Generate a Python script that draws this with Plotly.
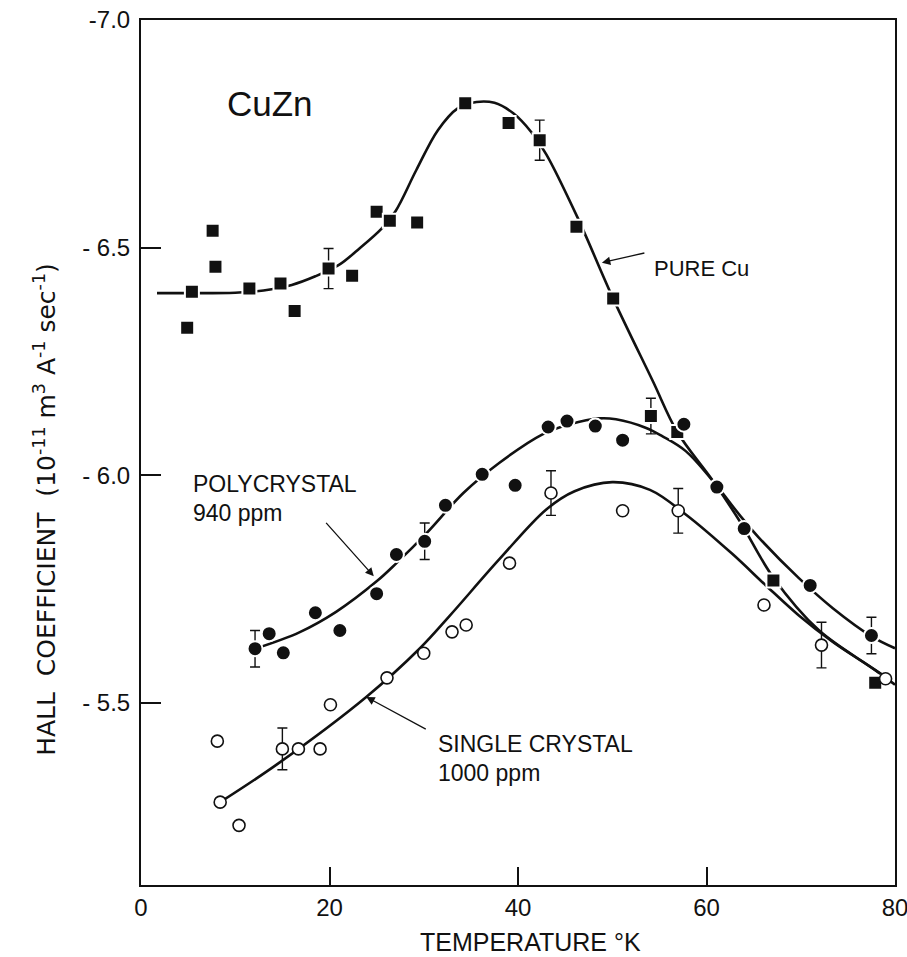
import plotly.graph_objects as go

# ---------------- data ----------------
# Pure Cu (filled squares)
cu_T = [4.9, 5.4, 7.6, 7.9, 11.5, 14.8, 16.3, 19.9, 22.4, 25.0, 26.4, 29.3,
        34.4, 39.0, 42.3, 46.2, 50.1, 54.1, 56.9, 67.1, 77.9]
cu_R = [-6.324, -6.403, -6.537, -6.458, -6.410, -6.421, -6.361, -6.454, -6.438,
        -6.579, -6.559, -6.555, -6.817, -6.774, -6.736, -6.546, -6.388, -6.130,
        -6.095, -5.769, -5.544]
cu_err = [0, 0, 0, 0, 0, 0, 0, 0.044, 0, 0, 0, 0, 0, 0, 0.044, 0, 0, 0.039,
          0, 0, 0]

# Polycrystal 940 ppm (filled circles)
poly_T = [12.1, 13.6, 15.1, 18.5, 21.1, 25.0, 27.1, 30.1, 32.3, 36.2, 39.7,
          43.2, 45.2, 48.2, 51.1, 57.6, 61.1, 64.0, 71.0, 77.5]
poly_R = [-5.619, -5.652, -5.610, -5.698, -5.659, -5.740, -5.826, -5.855,
          -5.934, -6.002, -5.978, -6.106, -6.119, -6.108, -6.077, -6.112,
          -5.974, -5.883, -5.758, -5.648]
poly_err = [0.04, 0, 0, 0, 0, 0, 0, 0.04, 0, 0, 0, 0, 0, 0, 0, 0, 0, 0, 0, 0.04]

# Single crystal 1000 ppm (open circles)
sc_T = [8.1, 8.4, 10.4, 15.0, 16.7, 19.0, 20.1, 26.1, 30.0, 33.0, 34.5, 39.1,
        43.5, 51.1, 57.0, 66.1, 72.2, 79.0]
sc_R = [-5.416, -5.282, -5.231, -5.399, -5.399, -5.399, -5.496, -5.555, -5.609,
        -5.656, -5.671, -5.807, -5.961, -5.922, -5.922, -5.715, -5.627, -5.553]
sc_err = [0, 0, 0, 0.046, 0, 0, 0, 0, 0, 0, 0, 0, 0.049, 0, 0.049, 0, 0.05, 0]

# Smooth guide curves
cu_curve_T = [1.7, 5, 10, 13, 16, 18.5, 21, 23, 25.5, 27, 29.2, 31.5, 33.6,
              35.6, 37.5, 39.5, 41.4, 43, 46.3, 50.1, 54.3, 56.9, 60.6, 63.5,
              67.1, 71.9, 77.9, 80]
cu_curve_R = [-6.400, -6.400, -6.401, -6.406, -6.418, -6.437, -6.462, -6.495,
              -6.541, -6.580, -6.670, -6.758, -6.806, -6.820, -6.818, -6.795,
              -6.754, -6.705, -6.567, -6.388, -6.207, -6.095, -5.990, -5.900,
              -5.775, -5.660, -5.572, -5.540]

poly_curve_T = [12.1, 16.8, 20.7, 25, 27.1, 30.3, 34.2, 38, 42.6, 45.5, 48.6,
                50.4, 53.6, 55.3, 57.8, 61, 63.5, 65.6, 69.8, 73.4, 77.6, 80]
poly_curve_R = [-5.619, -5.655, -5.700, -5.767, -5.807, -5.873, -5.961, -6.027,
                -6.090, -6.112, -6.125, -6.123, -6.104, -6.086, -6.053, -5.979,
                -5.913, -5.862, -5.774, -5.708, -5.645, -5.620]

sc_curve_T = [8.4, 14.5, 23.9, 29.6, 32.7, 38, 43, 46, 50, 54, 57.8,
              62.7, 66.3, 69.8, 73.4, 76.9, 79]
sc_curve_R = [-5.282, -5.366, -5.513, -5.620, -5.690, -5.815, -5.925, -5.965,
              -5.985, -5.968, -5.914, -5.828, -5.758, -5.692, -5.634, -5.586,
              -5.557]

x_ticks = [0, 20, 40, 60, 80]
x_tick_labels = ["0", "20", "40", "60", "80"]
y_ticks = [-7.0, -6.5, -6.0, -5.5]
y_tick_labels = ["-7.0", "- 6.5", "- 6.0", "- 5.5"]

FONT = "Liberation Sans"
INK = "#111111"

fig = go.Figure()

for cx, cy in [(cu_curve_T, cu_curve_R), (poly_curve_T, poly_curve_R),
               (sc_curve_T, sc_curve_R)]:
    fig.add_trace(go.Scatter(x=cx, y=cy, mode="lines",
                             line=dict(color=INK, width=2.6, shape="spline",
                                       smoothing=1.0),
                             hoverinfo="skip", showlegend=False))

errstyle = dict(type="data", visible=True, color=INK, thickness=1.4, width=5)

fig.add_trace(go.Scatter(
    x=cu_T, y=cu_R, mode="markers", name="Pure Cu",
    marker=dict(symbol="square", size=14, color=INK,
                line=dict(color="white", width=2)),
    error_y=dict(array=cu_err, **errstyle), showlegend=False))

fig.add_trace(go.Scatter(
    x=poly_T, y=poly_R, mode="markers", name="Polycrystal 940 ppm",
    marker=dict(symbol="circle", size=15, color=INK,
                line=dict(color="white", width=2)),
    error_y=dict(array=poly_err, **errstyle), showlegend=False))

fig.add_trace(go.Scatter(
    x=sc_T, y=sc_R, mode="markers", name="Single crystal 1000 ppm",
    marker=dict(symbol="circle", size=12, color="white",
                line=dict(color=INK, width=1.6)),
    error_y=dict(array=sc_err, **errstyle), showlegend=False))

txt = dict(family=FONT, size=23, color=INK)
ann = []
ann.append(dict(x=0.111, y=0.904, xref="paper", yref="paper", text="CuZn",
                showarrow=False, xanchor="left", yanchor="middle",
                font=dict(family=FONT, size=35, color=INK)))
# labels
ann.append(dict(x=0.678, y=0.713, xref="paper", yref="paper", text="PURE Cu",
                showarrow=False, xanchor="left", yanchor="middle",
                font=dict(family=FONT, size=22, color=INK)))
ann.append(dict(x=0.066, y=0.4636, xref="paper", yref="paper", text="POLYCRYSTAL",
                showarrow=False, xanchor="left", yanchor="middle", font=txt))
ann.append(dict(x=0.066, y=0.430, xref="paper", yref="paper", text="940 ppm",
                showarrow=False, xanchor="left", yanchor="middle", font=txt))
ann.append(dict(x=0.391, y=0.163, xref="paper", yref="paper", text="SINGLE CRYSTAL",
                showarrow=False, xanchor="left", yanchor="middle", font=txt))
ann.append(dict(x=0.391, y=0.1295, xref="paper", yref="paper", text="1000 ppm",
                showarrow=False, xanchor="left", yanchor="middle", font=txt))
# arrows
arrow = dict(showarrow=True, arrowhead=2, arrowsize=1.3, arrowwidth=1.3,
             arrowcolor=INK, text="", xref="x", yref="y")
ann.append(dict(x=48.9, y=-6.467, ax=44, ay=-10, **arrow))
ann.append(dict(x=24.7, y=-5.778, ax=-49, ay=-55, **arrow))
ann.append(dict(x=23.9, y=-5.513, ax=61, ay=33, **arrow))
# axis titles
ann.append(dict(x=-0.127, y=0.434, xref="paper", yref="paper",
                text="HALL  COEFFICIENT  (10<sup>-11</sup> m<sup>3</sup> A<sup>-1</sup> sec<sup>-1</sup>)",
                textangle=-90, showarrow=False, xanchor="center", yanchor="middle",
                font=dict(family="DejaVu Sans", size=25, color=INK)))
ann.append(dict(x=0.516, y=-0.066, xref="paper", yref="paper",
                text="TEMPERATURE °K", showarrow=False, xanchor="center",
                yanchor="middle", font=dict(family=FONT, size=25, color=INK)))

fig.update_layout(
    width=907, height=957,
    margin=dict(l=141, r=12, t=20, b=72, autoexpand=False),
    paper_bgcolor="white", plot_bgcolor="white",
    annotations=ann,
    font=dict(family=FONT, color=INK),
)
fig.update_xaxes(range=[0, 80], tickvals=x_ticks, ticktext=x_tick_labels,
                 ticks="inside", ticklen=18, tickwidth=1.5, tickcolor=INK,
                 showline=True, linecolor=INK, linewidth=2, mirror=True,
                 showgrid=False, zeroline=False, automargin=False,
                 ticklabeloverflow="allow",
                 tickfont=dict(family=FONT, size=24, color=INK))
fig.update_yaxes(range=[-5.1, -7.0], tickvals=y_ticks, ticktext=y_tick_labels,
                 ticks="inside", ticklen=20, tickwidth=1.5, tickcolor=INK,
                 showline=True, linecolor=INK, linewidth=2, mirror=True,
                 showgrid=False, zeroline=False, ticklabelstandoff=4,
                 automargin=False, ticklabeloverflow="allow",
                 tickfont=dict(family=FONT, size=24, color=INK))

# remove the default page margin so the figure fills the window exactly
fig.write_html("out.html",
               config={"displayModeBar": False},
               post_script="document.body.style.margin='0';"
                           "document.body.style.overflow='hidden';")
